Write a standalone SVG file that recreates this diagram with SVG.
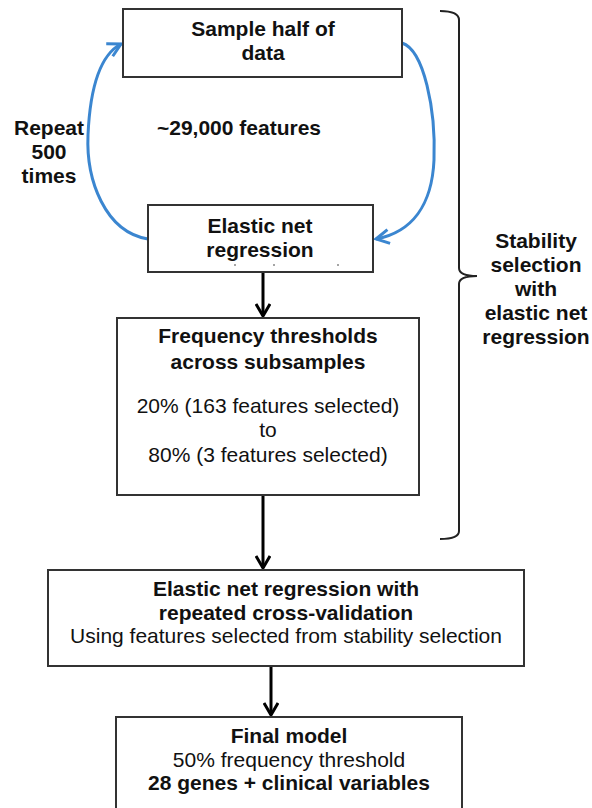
<svg xmlns="http://www.w3.org/2000/svg" width="592" height="808" viewBox="0 0 592 808">
  <style>
    .box { fill: #ffffff; stroke: #333333; stroke-width: 2; }
    .t { font-family: "Liberation Sans", Arial, sans-serif; font-size: 21px; fill: #111111; text-anchor: middle; }
    .b { font-weight: bold; }
    .conn { stroke: #000000; stroke-width: 3; fill: none; }
    .loop { stroke: #3b86d0; stroke-width: 3; fill: none; }
    .brace { stroke: #222222; stroke-width: 2; fill: none; }
  </style>
  <defs>
    <marker id="blk" viewBox="0 0 16 16" refX="14" refY="8" markerWidth="16" markerHeight="16" markerUnits="userSpaceOnUse" orient="auto">
      <path d="M2,1 L14,8 L2,15" fill="none" stroke="#000000" stroke-width="3"/>
    </marker>
    <marker id="blu" viewBox="0 0 18 18" refX="16" refY="9" markerWidth="18" markerHeight="18" markerUnits="userSpaceOnUse" orient="auto">
      <path d="M3,2 L16,9 L3,16" fill="none" stroke="#3b86d0" stroke-width="3"/>
    </marker>
  </defs>
  <rect width="592" height="808" fill="#ffffff"/>

  <g id="connectors">
    <path class="loop" d="M148,239 C105,232 86,180 88,135 C90,90 100,55 121,44" marker-end="url(#blu)"/>
    <path class="loop" d="M402,43 C424,50 436,110 434,160 C432,205 412,232 376,239" marker-end="url(#blu)"/>
    <path class="conn" d="M263,272 L263,316" marker-end="url(#blk)"/>
    <path class="conn" d="M263,495 L263,568" marker-end="url(#blk)"/>
    <path class="conn" d="M271,666 L271,715" marker-end="url(#blk)"/>
    <path class="brace" d="M440,11 Q459,11 459,20 L459,268 Q459,276 477,276 Q459,276 459,284 L459,531 Q459,539 440,539"/>
  </g>

  <g id="sample">
    <rect class="box" x="123" y="9" width="279" height="68"/>
    <text class="t b" x="263" y="36">Sample half of</text>
    <text class="t b" x="263" y="60">data</text>
  </g>

  <g id="repeat-label">
    <text class="t b" x="49" y="135">Repeat</text>
    <text class="t b" x="49" y="159">500</text>
    <text class="t b" x="49" y="183">times</text>
  </g>

  <g id="features-label">
    <text class="t b" x="239" y="135">~29,000 features</text>
  </g>

  <g id="elastic">
    <rect class="box" x="148" y="205" width="225" height="67"/>
    <text class="t b" x="260" y="233">Elastic net</text>
    <text class="t b" x="260" y="257">regression</text>
    <circle cx="235" cy="265" r="0.8" fill="#333"/>
    <circle cx="274" cy="265" r="0.8" fill="#333"/>
    <circle cx="338" cy="265" r="0.8" fill="#333"/>
  </g>

  <g id="stability-label">
    <text class="t b" x="536" y="248">Stability</text>
    <text class="t b" x="536" y="272">selection</text>
    <text class="t b" x="536" y="296">with</text>
    <text class="t b" x="536" y="320">elastic net</text>
    <text class="t b" x="536" y="344">regression</text>
  </g>

  <g id="frequency">
    <rect class="box" x="117" y="318" width="302" height="177"/>
    <text class="t b" x="268" y="343">Frequency thresholds</text>
    <text class="t b" x="268" y="369">across subsamples</text>
    <text class="t" x="268" y="413">20% (163 features selected)</text>
    <text class="t" x="268" y="437">to</text>
    <text class="t" x="268" y="462">80% (3 features selected)</text>
  </g>

  <g id="cv">
    <rect class="box" x="48" y="570" width="476" height="96"/>
    <text class="t b" x="286" y="596">Elastic net regression with</text>
    <text class="t b" x="286" y="620">repeated cross-validation</text>
    <text class="t" x="286" y="643">Using features selected from stability selection</text>
  </g>

  <g id="final">
    <rect class="box" x="116" y="717" width="346" height="95"/>
    <text class="t b" x="289" y="743">Final model</text>
    <text class="t" x="289" y="767">50% frequency threshold</text>
    <text class="t b" x="289" y="790">28 genes + clinical variables</text>
  </g>
</svg>
